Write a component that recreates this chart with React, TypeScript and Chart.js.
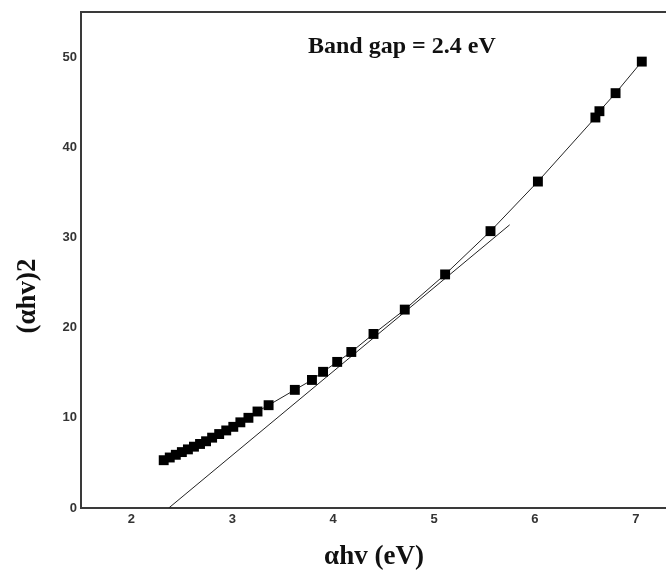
import React, { useEffect, useRef } from "react";
import { Chart, registerables } from "chart.js";

Chart.register(...registerables);

const energy = [
  2.32, 2.38, 2.44, 2.5, 2.56, 2.62, 2.68, 2.74, 2.8, 2.87, 2.94, 3.01, 3.08, 3.16, 3.25, 3.36,
  3.62, 3.79, 3.9, 4.04, 4.18, 4.4, 4.71, 5.11, 5.56, 6.03, 6.6, 6.64, 6.8, 7.06,
];
const absorption = [
  5.3, 5.6, 5.9, 6.2, 6.5, 6.8, 7.1, 7.4, 7.8, 8.2, 8.6, 9.0, 9.5, 10.0, 10.7, 11.4,
  13.1, 14.2, 15.1, 16.2, 17.3, 19.3, 22.0, 25.9, 30.7, 36.2, 43.3, 44.0, 46.0, 49.5,
];
const fitEnergy = [2.37, 5.75];
const fitAbsorption = [0, 31.4];
const xTickValues = [2, 3, 4, 5, 6, 7];
const yTickValues = [0, 10, 20, 30, 40, 50];
const annotationText = "Band gap = 2.4 eV";
const xTitle = "αhv (eV)";
const yTitle = "(αhv)2";

const W = 666;
const H = 577;

export default function App() {
  const ref = useRef<HTMLCanvasElement | null>(null);

  useEffect(() => {
    const canvas = ref.current;
    if (!canvas) return;

    const textPlugin = {
      id: "textPlugin",
      afterDraw(chart: any) {
        const { ctx, chartArea } = chart;
        ctx.save();
        ctx.strokeStyle = "#3a3a3a";
        ctx.lineWidth = 2;
        ctx.beginPath();
        ctx.moveTo(chartArea.left - 1, chartArea.top);
        ctx.lineTo(W, chartArea.top);
        ctx.stroke();

        ctx.fillStyle = "#111";
        ctx.font = "bold 24px 'Liberation Serif'";
        ctx.textAlign = "left";
        ctx.textBaseline = "middle";
        ctx.fillText(annotationText, 308, 47);

        ctx.font = "bold 27px 'Liberation Serif'";
        ctx.textAlign = "center";
        ctx.fillText(xTitle, 374, 557);

        ctx.translate(28, 296);
        ctx.rotate(-Math.PI / 2);
        ctx.fillText(yTitle, 0, 0);
        ctx.restore();
      },
    };

    const chart = new Chart(canvas, {
      type: "scatter",
      data: {
        datasets: [
          {
            label: "data",
            data: energy.map((x, i) => ({ x, y: absorption[i] })),
            showLine: true,
            borderColor: "#222",
            borderWidth: 1,
            backgroundColor: "#000",
            pointStyle: "rect",
            pointRadius: 7,
            pointBorderWidth: 0,
          },
          {
            label: "fit",
            data: fitEnergy.map((x, i) => ({ x, y: fitAbsorption[i] })),
            showLine: true,
            borderColor: "#222",
            borderWidth: 1,
            pointRadius: 0,
          },
        ],
      },
      options: {
        responsive: false,
        animation: false,
        layout: { autoPadding: false, padding: { top: 12, left: 0, right: 0, bottom: 0 } },
        plugins: {
          legend: { display: false },
          tooltip: { enabled: false },
        },
        scales: {
          x: {
            type: "linear",
            min: 1.5,
            max: 7.3,
            grid: { display: false, drawTicks: false },
            border: { display: true, color: "#3a3a3a", width: 2 },
            ticks: {
              padding: 4,
              color: "#333",
              font: { family: "'Liberation Sans'", size: 13, weight: "bold" },
            },
            afterBuildTicks(scale: any) {
              scale.ticks = xTickValues.map((v) => ({ value: v }));
            },
            afterFit(scale: any) {
              scale.height = H - 508;
              scale.paddingRight = 0;
              scale.paddingLeft = 0;
            },
          },
          y: {
            type: "linear",
            min: 0,
            max: 55,
            grid: { display: false, drawTicks: false },
            border: { display: true, color: "#3a3a3a", width: 2 },
            ticks: {
              padding: 4,
              color: "#333",
              font: { family: "'Liberation Sans'", size: 13, weight: "bold" },
            },
            afterBuildTicks(scale: any) {
              scale.ticks = yTickValues.map((v) => ({ value: v }));
            },
            afterFit(scale: any) {
              scale.width = 81;
              scale.paddingTop = 0;
              scale.paddingBottom = 0;
            },
          },
        },
      },
      plugins: [textPlugin],
    });

    return () => chart.destroy();
  }, []);

  return (
    <div style={{ position: "absolute", left: 0, top: 0, width: W, height: H, background: "#fff" }}>
      <canvas ref={ref} width={W} height={H} />
    </div>
  );
}
